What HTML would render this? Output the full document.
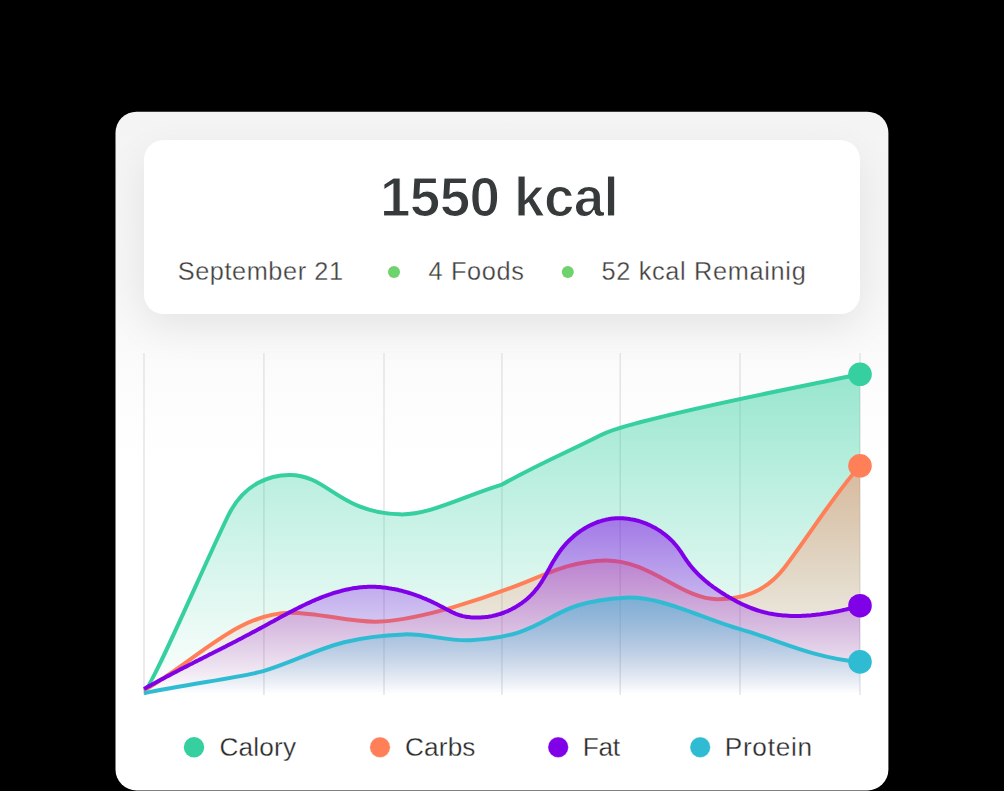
<!DOCTYPE html>
<html><head><meta charset="utf-8">
<style>
html,body{margin:0;padding:0;background:#000;width:1004px;height:791px;overflow:hidden}
svg{position:absolute;left:0;top:0}
text{font-family:"Liberation Sans",sans-serif}
</style></head><body>
<svg width="1004" height="791" viewBox="0 0 1004 791">
<defs>
  <linearGradient id="cardbg" gradientUnits="userSpaceOnUse" x1="0" y1="111" x2="0" y2="791">
    <stop offset="0" stop-color="#f4f4f4"/>
    <stop offset="0.25" stop-color="#f6f6f6"/>
    <stop offset="0.40" stop-color="#fcfcfc"/>
    <stop offset="0.52" stop-color="#ffffff"/>
    <stop offset="1" stop-color="#ffffff"/>
  </linearGradient>
  <clipPath id="cc"><rect x="115.5" y="111.7" width="772.9" height="678.7" rx="21"/></clipPath>
  <filter id="sh" x="-30%" y="-60%" width="160%" height="260%">
    <feGaussianBlur in="SourceAlpha" stdDeviation="20"/>
    <feOffset dy="14"/>
    <feComponentTransfer><feFuncA type="linear" slope="0.08"/></feComponentTransfer>
    <feMerge><feMergeNode/><feMergeNode in="SourceGraphic"/></feMerge>
  </filter>
  <linearGradient id="gG" gradientUnits="userSpaceOnUse" x1="0" y1="374" x2="0" y2="694">
    <stop offset="0" stop-color="#35cfa0" stop-opacity="0.5"/>
    <stop offset="1" stop-color="#35cfa0" stop-opacity="0"/>
  </linearGradient>
  <linearGradient id="gO" gradientUnits="userSpaceOnUse" x1="0" y1="466" x2="0" y2="694">
    <stop offset="0" stop-color="#ff8058" stop-opacity="0.48"/>
    <stop offset="1" stop-color="#ff8058" stop-opacity="0"/>
  </linearGradient>
  <linearGradient id="gP" gradientUnits="userSpaceOnUse" x1="0" y1="519" x2="0" y2="694">
    <stop offset="0" stop-color="#8000e8" stop-opacity="0.5"/>
    <stop offset="1" stop-color="#8000e8" stop-opacity="0"/>
  </linearGradient>
  <linearGradient id="gC" gradientUnits="userSpaceOnUse" x1="0" y1="597" x2="0" y2="694">
    <stop offset="0" stop-color="#2fbcd2" stop-opacity="0.5"/>
    <stop offset="1" stop-color="#2fbcd2" stop-opacity="0"/>
  </linearGradient>
</defs>
<g clip-path="url(#cc)">
<rect x="115" y="111" width="774" height="680" fill="url(#cardbg)"/>
<rect x="144" y="140" width="716" height="174" rx="20" fill="#fff" filter="url(#sh)"/>
</g>
<text x="380" y="215.7" font-size="54.8" font-weight="bold" fill="#363a3a" stroke="#fff" stroke-width="1.2" letter-spacing="-0.62">1550 kcal</text>
<g fill="#404040" font-size="25.3" stroke="#fff" stroke-width="0.3">
<text x="177.7" y="280" letter-spacing="0.58">September 21</text>
<text x="428.6" y="280" letter-spacing="0.65">4 Foods</text>
<text x="601.5" y="280" letter-spacing="0.68">52 kcal Remainig</text>
</g>
<circle cx="394" cy="272" r="6" fill="#6dd36a"/>
<circle cx="567.8" cy="272" r="6" fill="#6dd36a"/>
<g stroke="#e4e4e4" stroke-width="1.5">
<line x1="144" y1="353" x2="144" y2="695"/>
<line x1="263.9" y1="353" x2="263.9" y2="695"/>
<line x1="384" y1="353" x2="384" y2="695"/>
<line x1="501.9" y1="353" x2="501.9" y2="695"/>
<line x1="620.2" y1="353" x2="620.2" y2="695"/>
<line x1="740" y1="353" x2="740" y2="695"/>
<line x1="860" y1="353" x2="860" y2="695"/>
</g>
<path d="M144.00,691.00 C150.65,690.60 201.16,571.34 228.00,516.00 C244.07,482.86 270.81,474.77 290.00,474.90 C327.99,475.17 338.32,512.58 400.00,514.36 C429.35,515.21 464.05,495.97 502.00,484.60 C539.74,463.08 571.79,450.13 600.00,435.50 C611.90,429.33 626.77,425.79 640.00,422.30 C712.48,403.22 788.09,389.27 860.00,374.30 L860,694 L144,694 Z" fill="url(#gG)"/>
<path d="M144.00,691.00 C150.65,690.60 201.16,571.34 228.00,516.00 C244.07,482.86 270.81,474.77 290.00,474.90 C327.99,475.17 338.32,512.58 400.00,514.36 C429.35,515.21 464.05,495.97 502.00,484.60 C539.74,463.08 571.79,450.13 600.00,435.50 C611.90,429.33 626.77,425.79 640.00,422.30 C712.48,403.22 788.09,389.27 860.00,374.30" fill="none" stroke="#35cfa0" stroke-width="4" stroke-linejoin="round"/>
<path d="M144.00,690.50 C194.94,661.58 238.09,612.83 290.00,612.65 C320.52,612.54 351.50,623.12 380.00,621.62 C421.26,619.41 484.81,598.87 530.00,580.33 C556.14,569.55 576.95,560.88 605.00,560.39 C650.01,559.53 682.18,599.78 718.00,599.21 C739.71,598.85 764.53,593.90 785.00,566.96 C810.22,533.79 836.26,491.59 860.00,466.00 L860,694 L144,694 Z" fill="url(#gO)"/>
<path d="M144.00,690.50 C194.94,661.58 238.09,612.83 290.00,612.65 C320.52,612.54 351.50,623.12 380.00,621.62 C421.26,619.41 484.81,598.87 530.00,580.33 C556.14,569.55 576.95,560.88 605.00,560.39 C650.01,559.53 682.18,599.78 718.00,599.21 C739.71,598.85 764.53,593.90 785.00,566.96 C810.22,533.79 836.26,491.59 860.00,466.00" fill="none" stroke="#ff8058" stroke-width="4" stroke-linejoin="round"/>
<path d="M144.0,689.0 L145.3,688.3 L146.6,687.5 L147.9,686.8 L149.2,686.1 L150.6,685.4 L151.9,684.6 L153.2,683.9 L154.5,683.2 L155.8,682.5 L157.1,681.8 L158.5,681.0 L159.8,680.3 L161.1,679.6 L162.4,678.9 L163.8,678.2 L165.1,677.5 L166.4,676.8 L167.7,676.1 L169.1,675.4 L170.4,674.7 L171.7,674.0 L173.0,673.3 L174.4,672.6 L175.7,671.9 L177.0,671.2 L178.4,670.5 L179.7,669.8 L181.0,669.1 L182.4,668.4 L183.7,667.8 L185.0,667.1 L186.4,666.4 L187.7,665.7 L189.0,665.0 L190.4,664.3 L191.7,663.7 L193.0,663.0 L194.4,662.3 L195.7,661.6 L197.1,660.9 L198.4,660.3 L199.7,659.6 L201.1,658.9 L202.4,658.2 L203.8,657.5 L205.1,656.9 L206.4,656.2 L207.8,655.5 L209.1,654.8 L210.4,654.1 L211.8,653.5 L213.1,652.8 L214.5,652.1 L215.8,651.4 L217.1,650.8 L218.5,650.1 L219.8,649.4 L221.2,648.7 L222.5,648.0 L223.8,647.4 L225.2,646.7 L226.5,646.0 L227.8,645.3 L229.2,644.6 L230.5,643.9 L231.9,643.3 L233.2,642.6 L234.5,641.9 L235.9,641.2 L237.2,640.5 L238.5,639.8 L239.9,639.1 L241.2,638.4 L242.5,637.7 L243.8,637.0 L245.2,636.3 L246.5,635.6 L247.8,634.9 L249.2,634.2 L250.5,633.5 L251.8,632.8 L253.1,632.1 L254.5,631.4 L255.8,630.7 L257.1,630.0 L258.4,629.3 L259.7,628.6 L261.1,627.9 L262.4,627.1 L263.7,626.4 L265.0,625.7 L266.3,625.0 L267.6,624.3 L269.0,623.5 L270.3,622.8 L271.6,622.1 L272.9,621.4 L274.2,620.7 L275.5,619.9 L276.9,619.2 L278.2,618.5 L279.5,617.8 L280.8,617.1 L282.1,616.3 L283.5,615.6 L284.8,614.9 L286.1,614.2 L287.4,613.5 L288.8,612.8 L290.1,612.1 L291.4,611.4 L292.7,610.7 L294.1,610.0 L295.4,609.3 L296.7,608.7 L298.1,608.0 L299.4,607.3 L300.8,606.7 L302.1,606.0 L303.5,605.3 L304.8,604.7 L306.2,604.0 L307.5,603.4 L308.9,602.8 L310.3,602.2 L311.6,601.5 L313.0,600.9 L314.4,600.3 L315.8,599.7 L317.2,599.2 L318.5,598.6 L319.9,598.0 L321.3,597.5 L322.7,596.9 L324.1,596.4 L325.5,595.9 L326.9,595.3 L328.4,594.8 L329.8,594.3 L331.2,593.9 L332.6,593.4 L334.0,592.9 L335.5,592.5 L336.9,592.1 L338.4,591.7 L339.8,591.3 L341.3,590.9 L342.7,590.5 L344.2,590.1 L345.6,589.8 L347.1,589.5 L348.6,589.2 L350.0,588.9 L351.5,588.6 L353.0,588.3 L354.5,588.1 L356.0,587.9 L357.4,587.7 L358.9,587.5 L360.4,587.3 L361.9,587.2 L363.4,587.1 L364.9,587.0 L366.4,586.9 L367.9,586.8 L369.4,586.8 L370.9,586.8 L372.4,586.8 L373.9,586.8 L375.4,586.8 L376.9,586.9 L378.4,587.0 L379.9,587.1 L381.4,587.2 L382.9,587.4 L384.4,587.5 L385.9,587.7 L387.4,587.9 L388.8,588.2 L390.3,588.4 L391.8,588.7 L393.3,588.9 L394.8,589.2 L396.2,589.5 L397.7,589.8 L399.2,590.2 L400.6,590.5 L402.1,590.9 L403.5,591.3 L405.0,591.7 L406.4,592.1 L407.8,592.5 L409.3,593.0 L410.7,593.4 L412.1,593.9 L413.6,594.4 L415.0,594.9 L416.4,595.4 L417.8,595.9 L419.2,596.4 L420.6,596.9 L422.0,597.5 L423.4,598.1 L424.8,598.6 L426.2,599.2 L427.5,599.8 L428.9,600.4 L430.3,601.0 L431.6,601.7 L433.0,602.3 L434.4,603.0 L435.7,603.6 L437.0,604.3 L438.4,605.0 L439.7,605.7 L441.0,606.4 L442.4,607.1 L443.7,607.8 L445.0,608.5 L446.3,609.2 L447.7,609.9 L449.0,610.6 L450.3,611.3 L451.7,611.9 L453.0,612.6 L454.4,613.2 L455.8,613.8 L457.2,614.3 L458.6,614.8 L460.0,615.3 L461.5,615.7 L462.9,616.1 L464.4,616.4 L465.8,616.7 L467.3,617.0 L468.8,617.1 L470.3,617.3 L471.8,617.4 L473.3,617.5 L474.8,617.5 L476.3,617.6 L477.8,617.5 L479.3,617.5 L480.8,617.4 L482.3,617.3 L483.8,617.2 L485.3,617.1 L486.8,616.9 L488.3,616.7 L489.8,616.4 L491.2,616.2 L492.7,615.9 L494.2,615.5 L495.6,615.2 L497.1,614.8 L498.5,614.4 L500.0,614.0 L501.4,613.5 L502.8,613.0 L504.2,612.5 L505.6,611.9 L507.0,611.4 L508.4,610.8 L509.7,610.1 L511.1,609.5 L512.4,608.8 L513.7,608.1 L515.1,607.4 L516.3,606.6 L517.6,605.8 L518.9,605.0 L520.1,604.2 L521.4,603.3 L522.6,602.4 L523.8,601.5 L525.0,600.6 L526.1,599.7 L527.3,598.7 L528.4,597.7 L529.5,596.7 L530.6,595.6 L531.6,594.6 L532.7,593.5 L533.7,592.4 L534.7,591.2 L535.6,590.1 L536.6,588.9 L537.5,587.8 L538.4,586.6 L539.3,585.3 L540.1,584.1 L541.0,582.9 L541.8,581.6 L542.6,580.3 L543.4,579.0 L544.1,577.8 L544.9,576.5 L545.6,575.2 L546.4,573.8 L547.1,572.5 L547.8,571.2 L548.6,569.9 L549.3,568.6 L550.0,567.3 L550.7,566.0 L551.5,564.6 L552.2,563.3 L552.9,562.0 L553.7,560.7 L554.5,559.5 L555.3,558.2 L556.1,556.9 L556.9,555.6 L557.7,554.4 L558.6,553.2 L559.4,551.9 L560.3,550.7 L561.2,549.5 L562.1,548.3 L563.1,547.2 L564.0,546.0 L565.0,544.9 L566.0,543.7 L567.0,542.6 L568.0,541.6 L569.1,540.5 L570.2,539.4 L571.3,538.4 L572.4,537.4 L573.5,536.4 L574.7,535.4 L575.8,534.5 L577.0,533.6 L578.2,532.7 L579.4,531.8 L580.6,530.9 L581.9,530.1 L583.2,529.3 L584.4,528.5 L585.7,527.7 L587.0,527.0 L588.3,526.3 L589.7,525.6 L591.0,524.9 L592.4,524.3 L593.8,523.7 L595.1,523.1 L596.5,522.5 L597.9,522.0 L599.4,521.5 L600.8,521.1 L602.2,520.6 L603.7,520.2 L605.1,519.9 L606.6,519.5 L608.1,519.3 L609.5,519.0 L611.0,518.8 L612.5,518.6 L614.0,518.5 L615.5,518.3 L617.0,518.3 L618.5,518.2 L620.0,518.2 L621.5,518.3 L623.0,518.3 L624.5,518.4 L626.0,518.6 L627.5,518.7 L629.0,518.9 L630.5,519.2 L631.9,519.4 L633.4,519.7 L634.9,520.0 L636.3,520.4 L637.8,520.8 L639.2,521.2 L640.7,521.6 L642.1,522.1 L643.5,522.6 L644.9,523.1 L646.3,523.7 L647.7,524.3 L649.1,524.9 L650.4,525.5 L651.8,526.2 L653.1,526.9 L654.4,527.6 L655.7,528.3 L657.0,529.1 L658.3,529.9 L659.6,530.7 L660.8,531.5 L662.0,532.4 L663.2,533.3 L664.4,534.2 L665.6,535.1 L666.8,536.1 L667.9,537.0 L669.0,538.0 L670.1,539.1 L671.2,540.1 L672.3,541.2 L673.3,542.2 L674.3,543.4 L675.3,544.5 L676.3,545.6 L677.2,546.8 L678.2,548.0 L679.0,549.2 L679.9,550.4 L680.8,551.7 L681.6,552.9 L682.4,554.2 L683.2,555.4 L684.0,556.7 L684.9,557.9 L685.7,559.2 L686.6,560.4 L687.4,561.6 L688.3,562.8 L689.2,564.0 L690.1,565.2 L691.1,566.4 L692.0,567.6 L693.0,568.7 L694.0,569.8 L695.0,570.9 L696.0,572.0 L697.1,573.1 L698.1,574.2 L699.2,575.3 L700.3,576.3 L701.4,577.3 L702.5,578.3 L703.6,579.3 L704.7,580.3 L705.9,581.3 L707.0,582.2 L708.2,583.1 L709.4,584.1 L710.6,585.0 L711.8,585.9 L713.0,586.8 L714.2,587.6 L715.4,588.5 L716.7,589.4 L717.9,590.2 L719.2,591.0 L720.4,591.9 L721.7,592.7 L722.9,593.5 L724.2,594.3 L725.5,595.1 L726.8,595.9 L728.1,596.6 L729.4,597.4 L730.7,598.1 L732.0,598.9 L733.3,599.6 L734.6,600.3 L735.9,601.0 L737.2,601.7 L738.6,602.4 L739.9,603.1 L741.3,603.8 L742.6,604.4 L744.0,605.0 L745.4,605.6 L746.7,606.2 L748.1,606.8 L749.5,607.4 L750.9,608.0 L752.3,608.5 L753.7,609.0 L755.1,609.5 L756.5,610.0 L758.0,610.5 L759.4,610.9 L760.8,611.3 L762.3,611.7 L763.7,612.1 L765.2,612.5 L766.7,612.8 L768.1,613.2 L769.6,613.5 L771.1,613.7 L772.5,614.0 L774.0,614.3 L775.5,614.5 L777.0,614.7 L778.5,614.9 L780.0,615.1 L781.5,615.2 L783.0,615.4 L784.4,615.5 L785.9,615.6 L787.4,615.7 L788.9,615.8 L790.4,615.9 L791.9,615.9 L793.4,615.9 L794.9,616.0 L796.4,616.0 L797.9,616.0 L799.4,615.9 L800.9,615.9 L802.4,615.8 L803.9,615.8 L805.4,615.7 L806.9,615.6 L808.4,615.5 L809.9,615.4 L811.4,615.3 L812.9,615.1 L814.4,615.0 L815.9,614.8 L817.4,614.6 L818.9,614.4 L820.4,614.3 L821.9,614.1 L823.4,613.8 L824.8,613.6 L826.3,613.4 L827.8,613.1 L829.3,612.9 L830.8,612.6 L832.2,612.4 L833.7,612.1 L835.2,611.8 L836.7,611.5 L838.1,611.2 L839.6,610.9 L841.1,610.6 L842.5,610.3 L844.0,609.9 L845.5,609.6 L846.9,609.3 L848.4,608.9 L849.8,608.6 L851.3,608.2 L852.7,607.8 L854.2,607.4 L855.7,607.1 L857.1,606.7 L858.6,606.3 L860.0,605.9 L860,694 L144,694 Z" fill="url(#gP)"/>
<path d="M144.0,689.0 L145.3,688.3 L146.6,687.5 L147.9,686.8 L149.2,686.1 L150.6,685.4 L151.9,684.6 L153.2,683.9 L154.5,683.2 L155.8,682.5 L157.1,681.8 L158.5,681.0 L159.8,680.3 L161.1,679.6 L162.4,678.9 L163.8,678.2 L165.1,677.5 L166.4,676.8 L167.7,676.1 L169.1,675.4 L170.4,674.7 L171.7,674.0 L173.0,673.3 L174.4,672.6 L175.7,671.9 L177.0,671.2 L178.4,670.5 L179.7,669.8 L181.0,669.1 L182.4,668.4 L183.7,667.8 L185.0,667.1 L186.4,666.4 L187.7,665.7 L189.0,665.0 L190.4,664.3 L191.7,663.7 L193.0,663.0 L194.4,662.3 L195.7,661.6 L197.1,660.9 L198.4,660.3 L199.7,659.6 L201.1,658.9 L202.4,658.2 L203.8,657.5 L205.1,656.9 L206.4,656.2 L207.8,655.5 L209.1,654.8 L210.4,654.1 L211.8,653.5 L213.1,652.8 L214.5,652.1 L215.8,651.4 L217.1,650.8 L218.5,650.1 L219.8,649.4 L221.2,648.7 L222.5,648.0 L223.8,647.4 L225.2,646.7 L226.5,646.0 L227.8,645.3 L229.2,644.6 L230.5,643.9 L231.9,643.3 L233.2,642.6 L234.5,641.9 L235.9,641.2 L237.2,640.5 L238.5,639.8 L239.9,639.1 L241.2,638.4 L242.5,637.7 L243.8,637.0 L245.2,636.3 L246.5,635.6 L247.8,634.9 L249.2,634.2 L250.5,633.5 L251.8,632.8 L253.1,632.1 L254.5,631.4 L255.8,630.7 L257.1,630.0 L258.4,629.3 L259.7,628.6 L261.1,627.9 L262.4,627.1 L263.7,626.4 L265.0,625.7 L266.3,625.0 L267.6,624.3 L269.0,623.5 L270.3,622.8 L271.6,622.1 L272.9,621.4 L274.2,620.7 L275.5,619.9 L276.9,619.2 L278.2,618.5 L279.5,617.8 L280.8,617.1 L282.1,616.3 L283.5,615.6 L284.8,614.9 L286.1,614.2 L287.4,613.5 L288.8,612.8 L290.1,612.1 L291.4,611.4 L292.7,610.7 L294.1,610.0 L295.4,609.3 L296.7,608.7 L298.1,608.0 L299.4,607.3 L300.8,606.7 L302.1,606.0 L303.5,605.3 L304.8,604.7 L306.2,604.0 L307.5,603.4 L308.9,602.8 L310.3,602.2 L311.6,601.5 L313.0,600.9 L314.4,600.3 L315.8,599.7 L317.2,599.2 L318.5,598.6 L319.9,598.0 L321.3,597.5 L322.7,596.9 L324.1,596.4 L325.5,595.9 L326.9,595.3 L328.4,594.8 L329.8,594.3 L331.2,593.9 L332.6,593.4 L334.0,592.9 L335.5,592.5 L336.9,592.1 L338.4,591.7 L339.8,591.3 L341.3,590.9 L342.7,590.5 L344.2,590.1 L345.6,589.8 L347.1,589.5 L348.6,589.2 L350.0,588.9 L351.5,588.6 L353.0,588.3 L354.5,588.1 L356.0,587.9 L357.4,587.7 L358.9,587.5 L360.4,587.3 L361.9,587.2 L363.4,587.1 L364.9,587.0 L366.4,586.9 L367.9,586.8 L369.4,586.8 L370.9,586.8 L372.4,586.8 L373.9,586.8 L375.4,586.8 L376.9,586.9 L378.4,587.0 L379.9,587.1 L381.4,587.2 L382.9,587.4 L384.4,587.5 L385.9,587.7 L387.4,587.9 L388.8,588.2 L390.3,588.4 L391.8,588.7 L393.3,588.9 L394.8,589.2 L396.2,589.5 L397.7,589.8 L399.2,590.2 L400.6,590.5 L402.1,590.9 L403.5,591.3 L405.0,591.7 L406.4,592.1 L407.8,592.5 L409.3,593.0 L410.7,593.4 L412.1,593.9 L413.6,594.4 L415.0,594.9 L416.4,595.4 L417.8,595.9 L419.2,596.4 L420.6,596.9 L422.0,597.5 L423.4,598.1 L424.8,598.6 L426.2,599.2 L427.5,599.8 L428.9,600.4 L430.3,601.0 L431.6,601.7 L433.0,602.3 L434.4,603.0 L435.7,603.6 L437.0,604.3 L438.4,605.0 L439.7,605.7 L441.0,606.4 L442.4,607.1 L443.7,607.8 L445.0,608.5 L446.3,609.2 L447.7,609.9 L449.0,610.6 L450.3,611.3 L451.7,611.9 L453.0,612.6 L454.4,613.2 L455.8,613.8 L457.2,614.3 L458.6,614.8 L460.0,615.3 L461.5,615.7 L462.9,616.1 L464.4,616.4 L465.8,616.7 L467.3,617.0 L468.8,617.1 L470.3,617.3 L471.8,617.4 L473.3,617.5 L474.8,617.5 L476.3,617.6 L477.8,617.5 L479.3,617.5 L480.8,617.4 L482.3,617.3 L483.8,617.2 L485.3,617.1 L486.8,616.9 L488.3,616.7 L489.8,616.4 L491.2,616.2 L492.7,615.9 L494.2,615.5 L495.6,615.2 L497.1,614.8 L498.5,614.4 L500.0,614.0 L501.4,613.5 L502.8,613.0 L504.2,612.5 L505.6,611.9 L507.0,611.4 L508.4,610.8 L509.7,610.1 L511.1,609.5 L512.4,608.8 L513.7,608.1 L515.1,607.4 L516.3,606.6 L517.6,605.8 L518.9,605.0 L520.1,604.2 L521.4,603.3 L522.6,602.4 L523.8,601.5 L525.0,600.6 L526.1,599.7 L527.3,598.7 L528.4,597.7 L529.5,596.7 L530.6,595.6 L531.6,594.6 L532.7,593.5 L533.7,592.4 L534.7,591.2 L535.6,590.1 L536.6,588.9 L537.5,587.8 L538.4,586.6 L539.3,585.3 L540.1,584.1 L541.0,582.9 L541.8,581.6 L542.6,580.3 L543.4,579.0 L544.1,577.8 L544.9,576.5 L545.6,575.2 L546.4,573.8 L547.1,572.5 L547.8,571.2 L548.6,569.9 L549.3,568.6 L550.0,567.3 L550.7,566.0 L551.5,564.6 L552.2,563.3 L552.9,562.0 L553.7,560.7 L554.5,559.5 L555.3,558.2 L556.1,556.9 L556.9,555.6 L557.7,554.4 L558.6,553.2 L559.4,551.9 L560.3,550.7 L561.2,549.5 L562.1,548.3 L563.1,547.2 L564.0,546.0 L565.0,544.9 L566.0,543.7 L567.0,542.6 L568.0,541.6 L569.1,540.5 L570.2,539.4 L571.3,538.4 L572.4,537.4 L573.5,536.4 L574.7,535.4 L575.8,534.5 L577.0,533.6 L578.2,532.7 L579.4,531.8 L580.6,530.9 L581.9,530.1 L583.2,529.3 L584.4,528.5 L585.7,527.7 L587.0,527.0 L588.3,526.3 L589.7,525.6 L591.0,524.9 L592.4,524.3 L593.8,523.7 L595.1,523.1 L596.5,522.5 L597.9,522.0 L599.4,521.5 L600.8,521.1 L602.2,520.6 L603.7,520.2 L605.1,519.9 L606.6,519.5 L608.1,519.3 L609.5,519.0 L611.0,518.8 L612.5,518.6 L614.0,518.5 L615.5,518.3 L617.0,518.3 L618.5,518.2 L620.0,518.2 L621.5,518.3 L623.0,518.3 L624.5,518.4 L626.0,518.6 L627.5,518.7 L629.0,518.9 L630.5,519.2 L631.9,519.4 L633.4,519.7 L634.9,520.0 L636.3,520.4 L637.8,520.8 L639.2,521.2 L640.7,521.6 L642.1,522.1 L643.5,522.6 L644.9,523.1 L646.3,523.7 L647.7,524.3 L649.1,524.9 L650.4,525.5 L651.8,526.2 L653.1,526.9 L654.4,527.6 L655.7,528.3 L657.0,529.1 L658.3,529.9 L659.6,530.7 L660.8,531.5 L662.0,532.4 L663.2,533.3 L664.4,534.2 L665.6,535.1 L666.8,536.1 L667.9,537.0 L669.0,538.0 L670.1,539.1 L671.2,540.1 L672.3,541.2 L673.3,542.2 L674.3,543.4 L675.3,544.5 L676.3,545.6 L677.2,546.8 L678.2,548.0 L679.0,549.2 L679.9,550.4 L680.8,551.7 L681.6,552.9 L682.4,554.2 L683.2,555.4 L684.0,556.7 L684.9,557.9 L685.7,559.2 L686.6,560.4 L687.4,561.6 L688.3,562.8 L689.2,564.0 L690.1,565.2 L691.1,566.4 L692.0,567.6 L693.0,568.7 L694.0,569.8 L695.0,570.9 L696.0,572.0 L697.1,573.1 L698.1,574.2 L699.2,575.3 L700.3,576.3 L701.4,577.3 L702.5,578.3 L703.6,579.3 L704.7,580.3 L705.9,581.3 L707.0,582.2 L708.2,583.1 L709.4,584.1 L710.6,585.0 L711.8,585.9 L713.0,586.8 L714.2,587.6 L715.4,588.5 L716.7,589.4 L717.9,590.2 L719.2,591.0 L720.4,591.9 L721.7,592.7 L722.9,593.5 L724.2,594.3 L725.5,595.1 L726.8,595.9 L728.1,596.6 L729.4,597.4 L730.7,598.1 L732.0,598.9 L733.3,599.6 L734.6,600.3 L735.9,601.0 L737.2,601.7 L738.6,602.4 L739.9,603.1 L741.3,603.8 L742.6,604.4 L744.0,605.0 L745.4,605.6 L746.7,606.2 L748.1,606.8 L749.5,607.4 L750.9,608.0 L752.3,608.5 L753.7,609.0 L755.1,609.5 L756.5,610.0 L758.0,610.5 L759.4,610.9 L760.8,611.3 L762.3,611.7 L763.7,612.1 L765.2,612.5 L766.7,612.8 L768.1,613.2 L769.6,613.5 L771.1,613.7 L772.5,614.0 L774.0,614.3 L775.5,614.5 L777.0,614.7 L778.5,614.9 L780.0,615.1 L781.5,615.2 L783.0,615.4 L784.4,615.5 L785.9,615.6 L787.4,615.7 L788.9,615.8 L790.4,615.9 L791.9,615.9 L793.4,615.9 L794.9,616.0 L796.4,616.0 L797.9,616.0 L799.4,615.9 L800.9,615.9 L802.4,615.8 L803.9,615.8 L805.4,615.7 L806.9,615.6 L808.4,615.5 L809.9,615.4 L811.4,615.3 L812.9,615.1 L814.4,615.0 L815.9,614.8 L817.4,614.6 L818.9,614.4 L820.4,614.3 L821.9,614.1 L823.4,613.8 L824.8,613.6 L826.3,613.4 L827.8,613.1 L829.3,612.9 L830.8,612.6 L832.2,612.4 L833.7,612.1 L835.2,611.8 L836.7,611.5 L838.1,611.2 L839.6,610.9 L841.1,610.6 L842.5,610.3 L844.0,609.9 L845.5,609.6 L846.9,609.3 L848.4,608.9 L849.8,608.6 L851.3,608.2 L852.7,607.8 L854.2,607.4 L855.7,607.1 L857.1,606.7 L858.6,606.3 L860.0,605.9" fill="none" stroke="#8000e8" stroke-width="4" stroke-linejoin="round"/>
<path d="M144.00,693.20 C185.18,684.68 247.92,676.11 264.00,670.96 C315.54,654.43 332.33,637.15 404.00,634.40 C426.35,633.53 448.03,641.39 470.00,640.25 C556.03,635.81 540.70,602.15 625.00,597.65 C661.28,595.71 702.02,618.51 740.00,629.10 C777.48,639.53 810.71,657.51 860.00,662.00 L860,694 L144,694 Z" fill="url(#gC)"/>
<path d="M144.00,693.20 C185.18,684.68 247.92,676.11 264.00,670.96 C315.54,654.43 332.33,637.15 404.00,634.40 C426.35,633.53 448.03,641.39 470.00,640.25 C556.03,635.81 540.70,602.15 625.00,597.65 C661.28,595.71 702.02,618.51 740.00,629.10 C777.48,639.53 810.71,657.51 860.00,662.00" fill="none" stroke="#2fbcd2" stroke-width="4" stroke-linejoin="round"/>
<circle cx="860" cy="374.3" r="11.8" fill="#35cfa0"/>
<circle cx="860" cy="465.8" r="11.8" fill="#ff8058"/>
<circle cx="860" cy="605.7" r="11.8" fill="#8000e8"/>
<circle cx="860" cy="661.9" r="11.8" fill="#2fbcd2"/>
<g font-size="26.2" fill="#2a2a2a">
<circle cx="194" cy="747.3" r="10.2" fill="#35cfa0"/>
<g stroke="#fff" stroke-width="0.3">
<text x="219.4" y="756.4" letter-spacing="0.2">Calory</text>
<circle cx="380" cy="747.3" r="10.2" fill="#ff8058"/>
<text x="404.9" y="756.4" letter-spacing="0.18">Carbs</text>
<circle cx="558.2" cy="747.3" r="10.2" fill="#8000e8"/>
<text x="582.8" y="756.4" letter-spacing="-0.31">Fat</text>
<circle cx="700.2" cy="747.3" r="10.2" fill="#2fbcd2"/>
<text x="724.7" y="756.4" letter-spacing="0.73">Protein</text>
</g>
</g>
</svg>
</body></html>
